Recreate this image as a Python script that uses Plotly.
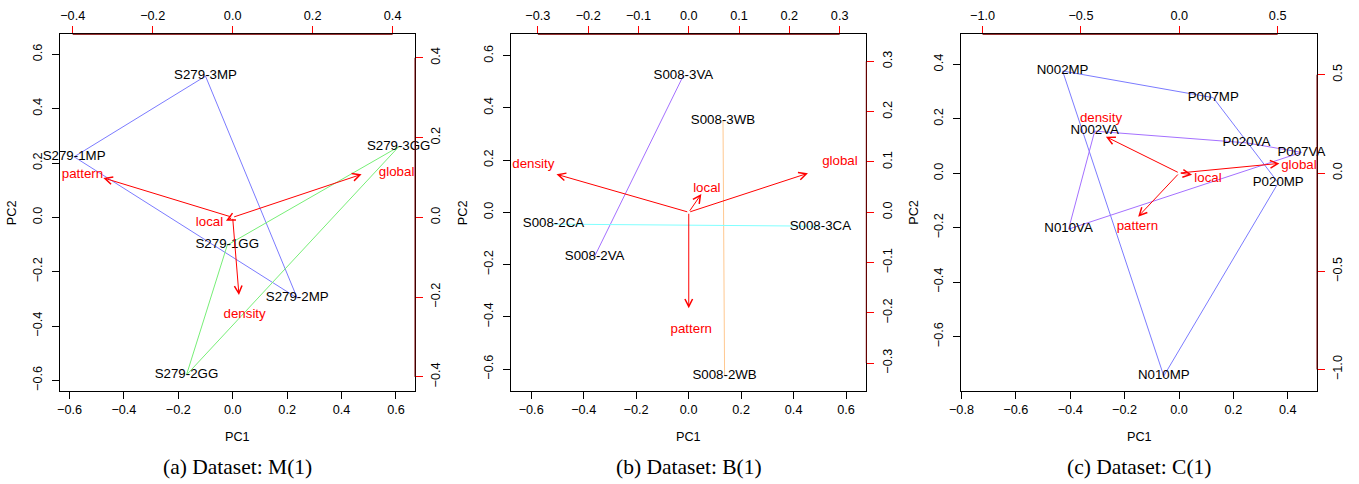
import plotly.graph_objects as go

# ---------------- data ----------------
variables = ["global", "local", "pattern", "density"]

# Panel (a) Dataset: M(1)
a_names = ["S279-1MP", "S279-2MP", "S279-3MP", "S279-1GG", "S279-2GG", "S279-3GG"]
a_pc1 = [-0.583, 0.237, -0.100, -0.020, -0.170, 0.610]
a_pc2 = [0.223, -0.297, 0.520, -0.102, -0.580, 0.260]
a_groups = [["S279-1MP", "S279-3MP", "S279-2MP", "S279-1MP"],
            ["S279-1GG", "S279-3GG", "S279-2GG", "S279-1GG"]]
a_tip1 = [0.3225, -0.0168, -0.3235, 0.0158]
a_tip2 = [0.108, -0.0085, 0.099, -0.1947]
a_lab1 = [0.410, -0.058, -0.3755, 0.030]
a_lab2 = [0.112, -0.0125, 0.108, -0.245]

# Panel (b) Dataset: B(1)
b_names = ["S008-3VA", "S008-2VA", "S008-3WB", "S008-2WB", "S008-2CA", "S008-3CA"]
b_pc1 = [-0.020, -0.358, 0.131, 0.137, -0.515, 0.502]
b_pc2 = [0.524, -0.168, 0.352, -0.625, -0.045, -0.053]
b_groups = [["S008-3VA", "S008-2VA"],
            ["S008-3WB", "S008-2WB"],
            ["S008-2CA", "S008-3CA"]]
b_tip1 = [0.237, 0.025, 0.000, -0.263]
b_tip2 = [0.0776, 0.0364, -0.191, 0.0756]
b_lab1 = [0.3005, 0.036, 0.005, -0.309]
b_lab2 = [0.100, 0.047, -0.234, 0.0955]

# Panel (c) Dataset: C(1)
c_names = ["N002MP", "P007MP", "P020MP", "N010MP", "N002VA", "P020VA", "P007VA", "N010VA"]
c_pc1 = [-0.428, 0.126, 0.365, -0.056, -0.310, 0.248, 0.450, -0.406]
c_pc2 = [0.376, 0.278, -0.035, -0.745, 0.155, 0.112, 0.077, -0.205]
c_groups = [["N002MP", "P007MP", "P020MP", "N010MP", "N002MP"],
            ["N002VA", "P020VA", "P007VA", "N010VA", "N002VA"]]
c_tip1 = [0.509, 0.065, -0.209, -0.373]
c_tip2 = [0.049, -0.009, -0.222, 0.185]
c_lab1 = [0.608, 0.146, -0.213, -0.398]
c_lab2 = [0.037, -0.0305, -0.272, 0.276]

captions = ["(a) Dataset: M(1)", "(b) Dataset: B(1)", "(c) Dataset: C(1)"]

# ---------------- styles / layout ----------------
group_colors = [["#7b7bff", "#77ee77"],
                ["#a470ff", "#ffc890", "#80ffff"],
                ["#7b7bff", "#a470ff"]]
x_ranges = [[-0.636, 0.670], [-0.678, 0.677], [-0.8006, 0.5075]]
y_ranges = [[-0.638, 0.674], [-0.683, 0.682], [-0.799, 0.511]]
x2_ranges = [[-0.4325, 0.456], [-0.354, 0.353], [-1.108, 0.700]]
y2_ranges = [[-0.4346, 0.459], [-0.355, 0.354], [-1.108, 0.706]]
x_ticks = [[-0.6, -0.4, -0.2, 0.0, 0.2, 0.4, 0.6],
           [-0.6, -0.4, -0.2, 0.0, 0.2, 0.4, 0.6],
           [-0.8, -0.6, -0.4, -0.2, 0.0, 0.2, 0.4]]
y_ticks = [[-0.6, -0.4, -0.2, 0.0, 0.2, 0.4, 0.6],
           [-0.6, -0.4, -0.2, 0.0, 0.2, 0.4, 0.6],
           [-0.8, -0.6, -0.4, -0.2, 0.0, 0.2, 0.4]]
s_ticks = [[-0.4, -0.2, 0.0, 0.2, 0.4],
           [-0.3, -0.2, -0.1, 0.0, 0.1, 0.2, 0.3],
           [-1.0, -0.5, 0.0, 0.5]]

panels = [
    dict(names=a_names, pc1=a_pc1, pc2=a_pc2, groups=a_groups,
         tip1=a_tip1, tip2=a_tip2, lab1=a_lab1, lab2=a_lab2),
    dict(names=b_names, pc1=b_pc1, pc2=b_pc2, groups=b_groups,
         tip1=b_tip1, tip2=b_tip2, lab1=b_lab1, lab2=b_lab2),
    dict(names=c_names, pc1=c_pc1, pc2=c_pc2, groups=c_groups,
         tip1=c_tip1, tip2=c_tip2, lab1=c_lab1, lab2=c_lab2),
]

# the page's body margin is removed (see write_html), figure fills the window
W, H = 1359, 484


def px_x(px):
    return px / W


def px_y(py):
    return 1 - py / H


boxes = [(59.7, 415.0), (510.7, 866.3), (961.3, 1317.0)]
top_px, bot_px = 34.3, 390.7
ydom = [px_y(bot_px), px_y(top_px)]

SANS = "Liberation Sans, Arial, sans-serif"
SERIF = "Liberation Serif, Times New Roman, serif"
TICKFONT = dict(family=SANS, size=12.7, color="black")
LABFONT = 13.3


def ref(axis, n):
    return axis if n == 1 else f"{axis}{n}"


def key(axis, n):
    return f"{axis}axis" if n == 1 else f"{axis}axis{n}"


fig = go.Figure()
layout = {}
annotations = []
shapes = []

for i, p in enumerate(panels):
    k = i + 1
    s = i + 4
    xp, yp, xs, ys = ref("x", k), ref("y", k), ref("x", s), ref("y", s)
    idx = {n: j for j, n in enumerate(p["names"])}

    # group connecting lines
    for g, grp in enumerate(p["groups"]):
        fig.add_trace(go.Scatter(
            x=[p["pc1"][idx[n]] for n in grp],
            y=[p["pc2"][idx[n]] for n in grp],
            mode="lines", line=dict(color=group_colors[i][g], width=1),
            xaxis=xp, yaxis=yp, hoverinfo="skip", cliponaxis=False))
    # sample labels
    fig.add_trace(go.Scatter(
        x=p["pc1"], y=p["pc2"], text=p["names"], mode="text",
        textposition="middle center",
        textfont=dict(family=SANS, size=LABFONT, color="black"),
        xaxis=xp, yaxis=yp, cliponaxis=False))
    # variable labels
    fig.add_trace(go.Scatter(
        x=p["lab1"], y=p["lab2"], text=variables, mode="text",
        textposition="middle center",
        textfont=dict(family=SANS, size=LABFONT, color="#ff0000"),
        xaxis=xs, yaxis=ys, cliponaxis=False))
    # arrows
    for t1, t2 in zip(p["tip1"], p["tip2"]):
        annotations.append(dict(
            x=t1, y=t2, ax=0, ay=0, xref=xs, yref=ys, axref=xs, ayref=ys,
            text="", showarrow=True, arrowhead=5, arrowsize=1.5,
            arrowwidth=1, arrowcolor="#ff0000"))

    x0, x1 = boxes[i]
    xdom = [px_x(x0), px_x(x1)]
    common = dict(showgrid=False, zeroline=False, showline=True,
                  linecolor="black", linewidth=1, ticks="outside",
                  ticklen=7, tickwidth=1, tickfont=TICKFONT,
                  tickformat=".1f", mirror=False, automargin=False)
    layout[key("x", k)] = dict(domain=xdom, range=x_ranges[i], anchor=yp,
                               tickvals=x_ticks[i], tickcolor="black",
                               ticklabelstandoff=0, **common)
    layout[key("y", k)] = dict(domain=ydom, range=y_ranges[i], anchor=xp,
                               tickvals=y_ticks[i], tickcolor="black",
                               tickangle=-90, ticklabelstandoff=5, **common)
    layout[key("x", s)] = dict(overlaying=xp, side="top", anchor=yp,
                               range=x2_ranges[i], tickvals=s_ticks[i],
                               tickcolor="#ff0000", ticklabelstandoff=1,
                               **common)
    layout[key("y", s)] = dict(overlaying=yp, side="right", anchor=xp,
                               range=y2_ranges[i], tickvals=s_ticks[i],
                               tickcolor="#ff0000", tickangle=-90,
                               ticklabelstandoff=2, **common)

    # red axis segments (between first and last tick of secondary axes)
    shapes.append(dict(type="line", xref=xs, yref=f"{yp} domain",
                       x0=s_ticks[i][0], x1=s_ticks[i][-1], y0=1, y1=1,
                       line=dict(color="#7a0000", width=1)))
    shapes.append(dict(type="line", xref=f"{xp} domain", yref=ys,
                       x0=1, x1=1, y0=s_ticks[i][0], y1=s_ticks[i][-1],
                       line=dict(color="#7a0000", width=1)))

    # axis titles and caption
    cx = px_x((x0 + x1) / 2)
    annotations.append(dict(x=cx, y=px_y(436.7), xref="paper", yref="paper",
                            xanchor="center", yanchor="middle",
                            text="PC1", showarrow=False,
                            font=dict(family=SANS, size=12.7, color="black")))
    annotations.append(dict(x=px_x(x0 - 47), y=(ydom[0] + ydom[1]) / 2,
                            xref="paper", yref="paper", text="PC2",
                            xanchor="center", yanchor="middle",
                            textangle=-90, showarrow=False,
                            font=dict(family=SANS, size=12.7, color="black")))
    annotations.append(dict(x=cx, y=px_y(466.5), xref="paper", yref="paper",
                            xanchor="center", yanchor="middle",
                            text=captions[i], showarrow=False,
                            font=dict(family=SERIF, size=21.5, color="black")))

fig.update_layout(
    width=W, height=H, margin=dict(l=0, r=0, t=0, b=0),
    paper_bgcolor="white", plot_bgcolor="white", showlegend=False,
    hovermode=False,
    annotations=annotations, shapes=shapes, **layout)

fig.write_html(
    "out.html",
    config={"displayModeBar": False, "staticPlot": True},
    post_script="document.body.style.margin='0px';"
                "document.body.style.overflow='hidden';")
